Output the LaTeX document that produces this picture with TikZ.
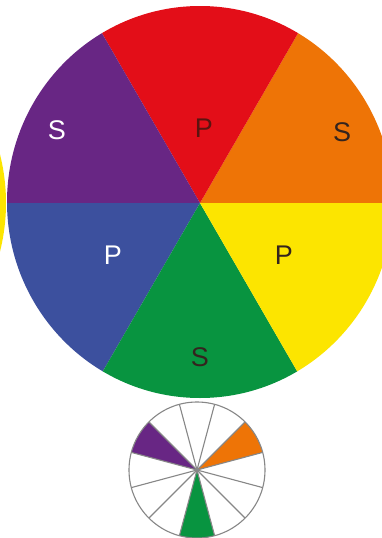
\documentclass[tikz,border=0pt]{standalone}
\usepackage{fontspec}
\setmainfont{Liberation Sans}
\definecolor{cred}{RGB}{227,14,24}
\definecolor{corange}{RGB}{238,116,6}
\definecolor{cyellow}{RGB}{252,229,0}
\definecolor{cgreen}{RGB}{8,148,64}
\definecolor{cblue}{RGB}{60,80,158}
\definecolor{cpurple}{RGB}{104,38,132}
\definecolor{cdark}{RGB}{52,36,30}
\definecolor{cdarkred}{RGB}{90,20,16}
\definecolor{cgrey}{RGB}{135,135,135}
\tikzset{
  lab/.style={font=\fontsize{27}{27}\selectfont, inner sep=0pt},
  darklab/.style={lab, text=cdark},
  lightlab/.style={lab, text=white},
  spoke/.style={draw=cgrey, line width=1.1pt},
}
\begin{document}
\begin{tikzpicture}[x=1pt,y=-1pt]
\useasboundingbox (0,0) rectangle (381,538);
\fill[white] (0,0) rectangle (381,538);
% neighbouring wheel (yellow sliver at left edge)
\fill[cyellow] (-188,203) ellipse [x radius=194, y radius=196];
% big wheel
\coordinate (V) at (200,203);
\begin{scope}
  \clip (200,202) ellipse [x radius=193, y radius=196];
  \foreach \a/\c in {0/corange,60/cred,120/cpurple,180/cblue,240/cgreen,300/cyellow}{
    \fill[\c] (V) -- ({200+300*cos(\a)},{203-300*sin(\a)})
      -- ({200+300*cos(\a+30)},{203-300*sin(\a+30)})
      -- ({200+300*cos(\a+60)},{203-300*sin(\a+60)}) -- cycle;
  }
\end{scope}
\node[lightlab] (sPurple) at (57,130) {S};
\node[lab, text=cdarkred] (pRed) at (204,128) {P};
\node[darklab] (sOrange) at (342,132) {S};
\node[lightlab] (pBlue) at (113,255) {P};
\node[darklab] (pYellow) at (284,255) {P};
\node[darklab] (sGreen) at (200,357) {S};
% small wheel
\coordinate (C) at (197,470);
\fill[white] (C) circle [radius=68];
\foreach \a/\c in {135/cpurple,15/corange,255/cgreen}{
  \fill[\c] (C) -- ({197+68*cos(\a)},{470-68*sin(\a)})
    \foreach \t in {5,10,...,30}{ -- ({197+68*cos(\a+\t)},{470-68*sin(\a+\t)}) } -- cycle;
}
\foreach \a in {15,45,...,345}{
  \draw[spoke] (C) -- ({197+68*cos(\a)},{470-68*sin(\a)});
}
\draw[spoke] (C) circle [radius=68];
\end{tikzpicture}
\end{document}
